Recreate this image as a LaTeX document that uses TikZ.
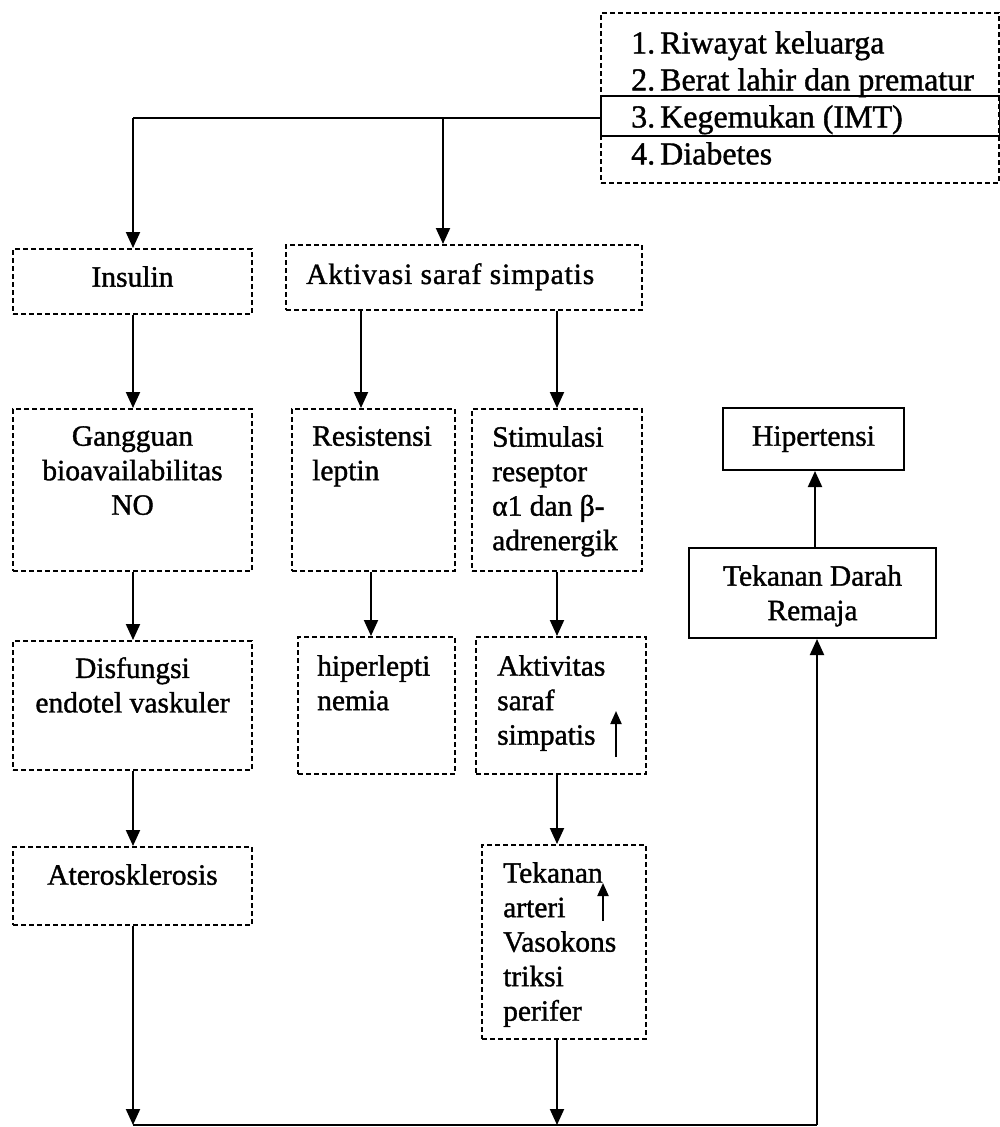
\documentclass[tikz,border=0pt]{standalone}
\usepackage{fontspec}
\setmainfont{Liberation Serif}[FakeBold=1.2]
\usetikzlibrary{arrows.meta,calc}
\begin{document}
\begin{tikzpicture}[x=1pt,y=1pt,
  dbox/.style={draw, dash pattern=on 5pt off 3pt, line width=2pt, inner sep=0pt, rectangle, anchor=north west},
  sbox/.style={draw, line width=2pt, inner sep=0pt, rectangle, anchor=north west},
  arr/.style={line width=2pt, -{Triangle[length=16pt,width=14pt]}},
  uparr/.style={line width=2pt, -{Triangle[length=13pt,width=11pt]}},
  txt/.style={inner sep=0pt, font=\fontsize{29.5}{34.5}\selectfont},
  ctxt/.style={txt, align=center, anchor=north},
  ltxt/.style={txt, align=left, anchor=north west},
]
\useasboundingbox (0,0) rectangle (1000,-1127);

% top list box
\node[dbox, minimum width=398pt, minimum height=170pt] (top) at (600,-12) {};
\node[sbox, minimum width=399pt, minimum height=40pt] (risk) at (600,-95) {};
\node[inner sep=0pt, align=left, anchor=north west, font=\fontsize{32}{37}\selectfont] (list) at (631,-31)
  {\makebox[29pt][l]{1.}Riwayat keluarga\\
   \makebox[29pt][l]{2.}Berat lahir dan prematur\\
   \makebox[29pt][l]{3.}Kegemukan (IMT)\\
   \makebox[29pt][l]{4.}Diabetes};

% boxes
\node[dbox, minimum width=239pt, minimum height=65pt] (ins) at (12,-248) {};
\node[dbox, minimum width=356pt, minimum height=65pt] (akt) at (285,-244) {};
\node[dbox, minimum width=239pt, minimum height=162pt] (gang) at (12,-408) {};
\node[dbox, minimum width=163pt, minimum height=162pt] (res) at (291,-408) {};
\node[dbox, minimum width=170pt, minimum height=162pt] (stim) at (471,-408) {};
\node[dbox, minimum width=239pt, minimum height=129pt] (dis) at (12,-640) {};
\node[dbox, minimum width=157pt, minimum height=137pt] (hip) at (297,-636) {};
\node[dbox, minimum width=170pt, minimum height=137pt] (aktv) at (475,-636) {};
\node[dbox, minimum width=239pt, minimum height=78pt] (ater) at (12,-846) {};
\node[dbox, minimum width=164pt, minimum height=194pt] (tek) at (481,-844) {};
\node[sbox, minimum width=181pt, minimum height=62pt] (hyp) at (722,-407) {};
\node[sbox, minimum width=247pt, minimum height=90pt] (tdr) at (688,-547) {};

% texts
\node[ctxt] (tins) at ($(ins.north)+(0,-18)$) {Insulin};
\node[txt, anchor=north west] (takt) at ($(akt.north west)+(21,-19)$) {\addfontfeature{LetterSpace=3}Aktivasi saraf simpatis};
\node[ctxt] (tgang) at ($(gang.north)+(0,-18)$) {Gangguan\\bioavailabilitas\\NO};
\node[ltxt] (tres) at ($(res.north west)+(21,-18)$) {Resistensi\\leptin};
\node[ltxt] (tstim) at ($(stim.north west)+(21,-18)$) {Stimulasi\\reseptor\\α1 dan β-\\adrenergik};
\node[ctxt] (tdis) at ($(dis.north)+(0,-17)$) {Disfungsi\\endotel vaskuler};
\node[ltxt] (thip) at ($(hip.north west)+(20,-19)$) {hiperlepti\\nemia};
\node[ltxt] (taktv) at ($(aktv.north west)+(22,-19)$) {Aktivitas\\saraf\\simpatis};
\node[ctxt] (tater) at ($(ater.north)+(0,-18)$) {Aterosklerosis};
\node[ltxt] (ttek) at ($(tek.north west)+(22,-18)$) {Tekanan\\arteri\\Vasokons\\triksi\\perifer};
\node[ctxt] (thyp) at ($(hyp.north)+(0,-19)$) {Hipertensi};
\node[ctxt] (ttdr) at ($(tdr.north)+(0,-18)$) {Tekanan Darah\\Remaja};

% up arrows inside boxes
\coordinate (ua1) at (616,-757);
\coordinate (ua1t) at (616,-711);
\draw[uparr] (ua1) -- (ua1t);
\coordinate (ua2) at (603,-921);
\coordinate (ua2t) at (603,-883);
\draw[uparr] (ua2) -- (ua2t);

% connectors
\coordinate (jl) at (133,-118);
\coordinate (jm) at (443,-118);
\draw[line width=2pt] (risk.west |- jl) -- (jl);
\draw[arr] (jl) -- (ins.north -| jl);
\draw[arr] (jm) -- (akt.north -| jm);

\coordinate (c1) at (133,0);
\coordinate (c2) at (361,0);
\coordinate (c3) at (557,0);
\coordinate (c4) at (371,0);
\coordinate (c5) at (815,0);
\coordinate (bl) at (133,-1125);
\coordinate (bm) at (557,-1125);
\coordinate (br) at (817,-1125);

\draw[arr] (ins.south -| c1) -- (gang.north -| c1);
\draw[arr] (gang.south -| c1) -- (dis.north -| c1);
\draw[arr] (dis.south -| c1) -- (ater.north -| c1);
\draw[arr] (ater.south -| c1) -- (bl);

\draw[arr] (akt.south -| c2) -- (res.north -| c2);
\draw[arr] (akt.south -| c3) -- (stim.north -| c3);
\draw[arr] (res.south -| c4) -- (hip.north -| c4);
\draw[arr] (stim.south -| c3) -- (aktv.north -| c3);
\draw[arr] (aktv.south -| c3) -- (tek.north -| c3);
\draw[arr] (tek.south -| c3) -- (bm);

\draw[line width=2pt] (bl) -- (br);
\draw[arr] (br) -- (tdr.south -| br);
\draw[arr] (tdr.north -| c5) -- (hyp.south -| c5);
\end{tikzpicture}
\end{document}
